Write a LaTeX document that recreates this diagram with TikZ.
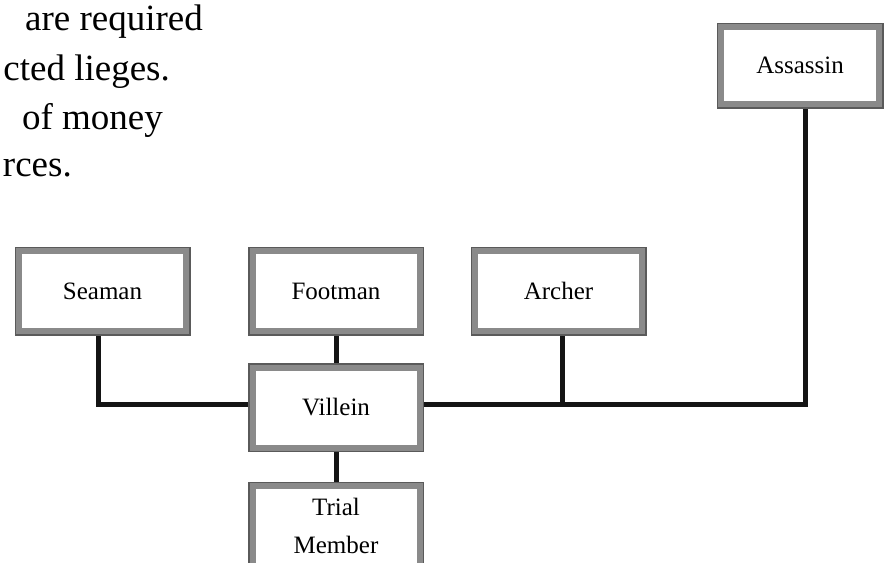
\documentclass[tikz,border=0pt]{standalone}
\usepackage{fontspec}
\setmainfont{Liberation Serif}
\usetikzlibrary{backgrounds}
\definecolor{rimdark}{HTML}{5A5A5A}
\definecolor{rimmid}{HTML}{8A8A8A}
\definecolor{inkline}{HTML}{141414}
\tikzset{
  rank/.style={rectangle, fill=white, draw=rimmid, line width=6pt,
    preaction={draw=rimdark, line width=9pt},
    minimum width=167pt, minimum height=80pt, inner sep=0pt, align=center,
    font=\fontsize{25}{36}\selectfont, text=black},
  tallrank/.style={rank, minimum width=158pt, minimum height=77pt},
  link/.style={draw=inkline, line width=5pt},
  prose/.style={anchor=base east, inner sep=0pt, font=\fontsize{37}{47}\selectfont, text=black}
}
\begin{document}
\begin{tikzpicture}[x=1pt, y=-1pt]
  \useasboundingbox (0,0) rectangle (885,562);
  \clip (0,0) rectangle (885,562);

  % closing lines of the paragraph
  \node[prose] (p1) at (203,30) {are required};
  \node[prose] (p2) at (170,80) {cted lieges.};
  \node[prose] (p3) at (163,129) {of money};
  \node[prose] (p4) at (72,176) {rces.};

  % ranks
  \node[tallrank] (assassin) at (800,65.5) {Assassin};
  \node[rank] (seaman)  at (102.5,291) {Seaman};
  \node[rank] (footman) at (336,291)   {Footman};
  \node[rank] (archer)  at (558.5,291) {Archer};
  \node[rank] (villein) at (336,407.5) {Villein};
  \node[rank, font=\fontsize{25}{38}\selectfont] (trial) at (336,526) {Trial\\Member};

  % junction points of the connectors
  \coordinate (seamanfoot) at (98,404);
  \coordinate (archerfoot) at (562,404);
  \coordinate (assassinfoot) at (805,404);

  \begin{scope}[on background layer]
    \draw[link] (seaman.south -| seamanfoot) -- (seamanfoot) -- (villein.west |- seamanfoot);
    \draw[link] (footman.south) -- (villein.north);
    \draw[link] (villein.south) -- (trial.north);
    \draw[link] (villein.east |- archerfoot) -- (assassinfoot) -- (assassin.south -| assassinfoot);
    \draw[link] (archer.south -| archerfoot) -- (archerfoot);
  \end{scope}
\end{tikzpicture}
\end{document}
